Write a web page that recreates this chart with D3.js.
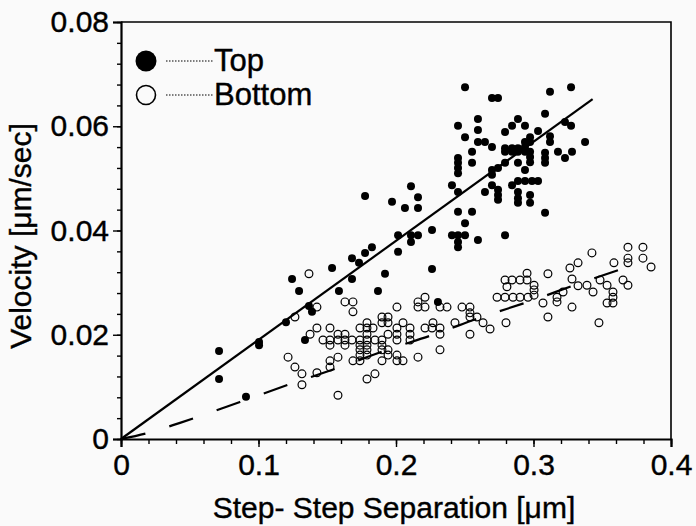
<!DOCTYPE html>
<html><head><meta charset="utf-8">
<script src="https://cdn.jsdelivr.net/npm/d3@7"></script>
<style>body{margin:0;background:#fafafa;} svg{display:block;}</style>
</head><body>
<script>
// ---- data ----
const xTicks = [0, 0.1, 0.2, 0.3, 0.4];
const xTickLabels = ["0", "0.1", "0.2", "0.3", "0.4"];
const yTicks = [0, 0.02, 0.04, 0.06, 0.08];
const yTickLabels = ["0", "0.02", "0.04", "0.06", "0.08"];
const legendLabels = ["Top", "Bottom"];
const xTitle = "Step- Step Separation [\u03BCm]";
const yTitle = "Velocity [\u03BCm/sec]";

// Top (filled) : [separation, velocity]
const topSeries = [
[0.0713,0.0169],[0.0713,0.0115],[0.0909,0.0081],[0.1004,0.0186],[0.1004,0.018],[0.12,0.0224],
[0.1244,0.0307],[0.1295,0.0284],[0.1338,0.019],[0.1367,0.0255],[0.1389,0.0244],[0.1535,0.0328],
[0.1585,0.0284],[0.168,0.0347],[0.168,0.0307],[0.1731,0.0338],[0.1775,0.0357],[0.1825,0.0368],
[0.1775,0.0466],[0.1869,0.0284],[0.192,0.0317],[0.1971,0.0455],[0.2015,0.0391],[0.2015,0.0359],
[0.2065,0.0443],[0.2109,0.0485],[0.2109,0.0378],[0.216,0.0464],[0.216,0.0443],[0.216,0.0391],
[0.2109,0.0391],[0.2262,0.0401],[0.2262,0.0326],[0.2305,0.0263],
[0.2502,0.0675],[0.2698,0.0654],[0.2742,0.0654],[0.312,0.0666],[0.3273,0.0675],[0.3084,0.0624],
[0.2596,0.0614],[0.2887,0.0614],[0.2451,0.0601],[0.2596,0.0593],[0.2844,0.0601],[0.2938,0.0601],
[0.2793,0.0589],[0.3033,0.0591],[0.3229,0.0608],[0.3273,0.0601],[0.2502,0.0579],[0.2975,0.0579],
[0.312,0.0581],[0.2596,0.057],[0.2647,0.057],[0.2698,0.056],[0.312,0.057],[0.3375,0.057],
[0.2938,0.057],[0.2975,0.057],[0.2793,0.0558],[0.2844,0.0558],[0.2887,0.0558],[0.2938,0.056],
[0.2553,0.0551],[0.2793,0.0551],[0.2844,0.0551],[0.2887,0.0551],[0.2938,0.0551],[0.2975,0.0551],
[0.3084,0.0549],[0.3178,0.0551],[0.328,0.0551],[0.3229,0.0539],[0.2451,0.0539],[0.2451,0.053],
[0.2451,0.052],[0.2451,0.051],[0.2553,0.053],[0.2793,0.053],[0.2887,0.053],[0.2975,0.0541],
[0.2975,0.0531],[0.3084,0.0539],[0.3084,0.053],[0.2742,0.052],[0.2698,0.0516],[0.2698,0.0507],
[0.2938,0.0516],[0.2407,0.0487],[0.2698,0.0487],[0.2844,0.0487],[0.2887,0.0495],[0.2938,0.0495],
[0.2989,0.0495],[0.3033,0.0495],[0.2451,0.0474],[0.2647,0.0474],[0.2742,0.0478],[0.2742,0.0468],
[0.2742,0.0459],[0.2887,0.0474],[0.2887,0.0462],[0.2887,0.0453],[0.2975,0.0468],[0.2975,0.0453],
[0.3084,0.0434],[0.2451,0.0436],[0.2553,0.0436],[0.2502,0.0414],[0.2407,0.0391],[0.2451,0.0391],
[0.2451,0.0378],[0.2451,0.0368],[0.2502,0.0391],[0.2596,0.0382],[0.2793,0.0391]
];

// Bottom (open) : [separation, velocity]
const bottomSeries = [
[0.1367,0.0317],[0.1425,0.0253],[0.1265,0.0234],[0.1629,0.0263],[0.1687,0.0263],[0.1687,0.0244],
[0.2007,0.0253],[0.216,0.0263],[0.2211,0.0272],[0.216,0.0253],[0.2211,0.0253],[0.232,0.0253],
[0.2371,0.0253],[0.1898,0.0234],[0.1942,0.0234],[0.1789,0.0223],[0.1898,0.0223],[0.1942,0.0223],
[0.2051,0.0223],[0.2269,0.0223],[0.1425,0.0213],[0.1375,0.0201],[0.152,0.0213],[0.1578,0.0201],
[0.1629,0.0201],[0.1738,0.0213],[0.1789,0.0213],[0.1833,0.0213],[0.1789,0.0201],[0.1942,0.0201],
[0.2007,0.0201],[0.2007,0.0213],[0.2102,0.0213],[0.2102,0.0201],[0.2211,0.0213],[0.2262,0.0213],
[0.232,0.0213],[0.232,0.0201],[0.1469,0.019],[0.152,0.019],[0.152,0.018],[0.1578,0.019],
[0.1629,0.019],[0.1629,0.018],[0.168,0.019],[0.1738,0.019],[0.1789,0.019],[0.1847,0.019],
[0.1898,0.019],[0.1898,0.018],[0.2007,0.019],[0.2102,0.019],[0.1738,0.018],[0.1789,0.018],
[0.1789,0.0171],[0.1738,0.0171],[0.1789,0.0161],[0.1738,0.0161],[0.1898,0.0171],[0.1942,0.0171],
[0.1687,0.015],[0.1738,0.015],[0.1898,0.015],[0.1942,0.0161],[0.2007,0.0161],[0.2007,0.015],
[0.2051,0.015],[0.216,0.0157],[0.232,0.0171],[0.1215,0.0157],[0.1265,0.0138],[0.1316,0.0125],
[0.152,0.015],[0.152,0.0138],[0.1578,0.0157],[0.1425,0.0127],[0.1316,0.0104],[0.1789,0.0115],
[0.1847,0.0125],[0.1578,0.0084],
[0.248,0.0253],[0.2538,0.0253],[0.2538,0.0242],[0.2538,0.0234],[0.2589,0.0234],[0.2429,0.0223],
[0.2633,0.0223],[0.2684,0.0211],[0.2538,0.0201],[0.28,0.0223],[0.2793,0.0305],[0.2844,0.0305],
[0.2902,0.0305],[0.2953,0.0305],[0.2953,0.0318],[0.2807,0.0292],[0.3004,0.0295],[0.3004,0.0286],
[0.3004,0.0276],[0.2735,0.0272],[0.2793,0.0272],[0.2851,0.0272],[0.2902,0.0272],[0.296,0.0272],
[0.3069,0.0261],[0.3105,0.0317],[0.3171,0.0272],[0.3171,0.0263],[0.3215,0.0282],[0.328,0.0253],
[0.3105,0.0234],[0.3265,0.0328],[0.3324,0.0338],[0.328,0.0307],[0.3324,0.0294],[0.3389,0.0295],
[0.3433,0.0282],[0.3425,0.0357],[0.3484,0.0305],[0.3535,0.0295],[0.3535,0.0261],[0.3578,0.0261],
[0.3578,0.0272],[0.3578,0.0282],[0.3585,0.0338],[0.3651,0.0305],[0.3687,0.0295],[0.3687,0.0338],
[0.3687,0.0347],[0.3687,0.0368],[0.3796,0.0368],[0.3796,0.0347],[0.3855,0.033],[0.3476,0.0223]
];

// fits
const topFit = [[0, 0], [0.343, 0.0652]];
const bottomFit = [[0,0],[0.02,0.0012],[0.0429,0.0031],[0.0865,0.0071],[0.1215,0.0104],[0.1571,0.0136],
  [0.1935,0.0171],[0.2269,0.02],[0.2625,0.0234],[0.2982,0.0265],[0.3338,0.0299],[0.3687,0.033]];

// ---- chart ----
const W = 696, H = 526;
const font = "'Liberation Sans', Arial, Helvetica, sans-serif";
const svg = d3.select("body").append("svg").attr("width", W).attr("height", H)
  .style("background", "#fafafa");

const x = d3.scaleLinear().domain([0, 0.4]).range([121, 671]);
const y = d3.scaleLinear().domain([0, 0.08]).range([439, 22]);

// frame (top & right)
svg.append("path").attr("d", `M${x(0)},${y(0.08)}H${x(0.4)}V${y(0)}`)
  .attr("fill", "none").attr("stroke", "#000").attr("stroke-width", 1.6);

// x axis
const xAxis = d3.axisBottom(x).tickValues(xTicks).tickFormat((d,i)=>xTickLabels[i]).tickSize(8).tickPadding(7);
const gx = svg.append("g").attr("transform", `translate(0,${y(0)})`).call(xAxis);
const xMinor = d3.axisBottom(x).tickValues(d3.range(0, 0.4001, 0.02)).tickFormat("").tickSize(5);
svg.append("g").attr("transform", `translate(0,${y(0)})`).call(xMinor).select(".domain").remove();

// y axis
const yAxis = d3.axisLeft(y).tickValues(yTicks).tickFormat((d,i)=>yTickLabels[i]).tickSize(8).tickPadding(4);
const gy = svg.append("g").attr("transform", `translate(${x(0)},0)`).call(yAxis);
const yMinor = d3.axisLeft(y).tickValues(d3.range(0, 0.0801, 0.004)).tickFormat("").tickSize(4);
svg.append("g").attr("transform", `translate(${x(0)},0)`).call(yMinor).select(".domain").remove();

svg.selectAll(".domain").attr("stroke-width", 2.2);
svg.selectAll(".tick line").attr("stroke-width", 1.4);
svg.selectAll(".tick text").attr("font-family", font).attr("font-size", 30).attr("fill", "#000")
  .attr("stroke", "#000").attr("stroke-width", 0.4);

// titles
svg.append("text").attr("x", 394).attr("y", 518).attr("text-anchor", "middle")
  .attr("font-family", font).attr("font-size", 30).attr("stroke", "#000").attr("stroke-width", 0.4).text(xTitle);
svg.append("text").attr("transform", `translate(31,236) rotate(-90)`).attr("text-anchor", "middle")
  .attr("font-family", font).attr("font-size", 30).attr("stroke", "#000").attr("stroke-width", 0.4).text(yTitle);

// fits
svg.append("path").datum(topFit)
  .attr("d", d3.line().x(d=>x(d[0])).y(d=>y(d[1])))
  .attr("fill", "none").attr("stroke", "#000").attr("stroke-width", 2.2);
svg.append("path").datum(bottomFit)
  .attr("d", d3.line().curve(d3.curveMonotoneX).x(d=>x(d[0])).y(d=>y(d[1])))
  .attr("fill", "none").attr("stroke", "#000").attr("stroke-width", 2.2)
  .attr("stroke-dasharray", "25,25");

// points
svg.append("g").selectAll("circle").data(bottomSeries).join("circle")
  .attr("cx", d=>x(d[0])).attr("cy", d=>y(d[1])).attr("r", 3.9)
  .attr("fill", "none").attr("stroke", "#000").attr("stroke-width", 1.2);
svg.append("g").selectAll("circle").data(topSeries).join("circle")
  .attr("cx", d=>x(d[0])).attr("cy", d=>y(d[1])).attr("r", 4)
  .attr("fill", "#000");

// legend
const leg = svg.append("g");
[[61, true], [95, false]].forEach(([cy, filled], i) => {
  leg.append("circle").attr("cx", 146).attr("cy", cy).attr("r", filled ? 10.5 : 9.5)
    .attr("fill", filled ? "#000" : "none").attr("stroke", "#000").attr("stroke-width", filled ? 0 : 1.6);
  leg.append("line").attr("x1", 166).attr("x2", 213).attr("y1", cy).attr("y2", cy)
    .attr("stroke", "#000").attr("stroke-width", 1.1).attr("stroke-dasharray", "1.5,1.5");
  leg.append("text").attr("x", 214).attr("y", cy + 10).attr("font-family", font)
    .attr("font-size", 31).attr("stroke", "#000").attr("stroke-width", 0.4).text(legendLabels[i]);
});
</script>
</body></html>
